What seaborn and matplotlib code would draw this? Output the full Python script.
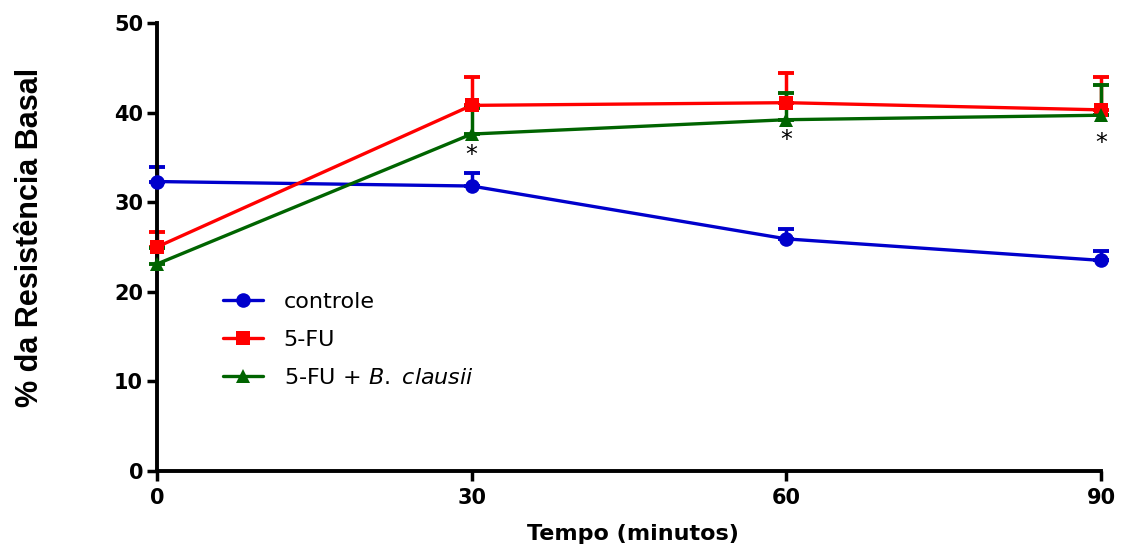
import numpy as np
import pandas as pd
import matplotlib
matplotlib.use("Agg")
import matplotlib.pyplot as plt
from matplotlib import font_manager
import seaborn as sns

# ---- data ----
tempo = [0, 30, 60, 90]
controle = [32.3, 31.8, 25.9, 23.5]
controle_sem = [1.6, 1.5, 1.1, 1.0]
fu = [25.0, 40.8, 41.1, 40.3]
fu_sem = [1.7, 3.2, 3.3, 3.7]
fu_bc = [23.1, 37.6, 39.2, 39.7]
fu_bc_sem = [1.8, 2.9, 3.0, 3.4]
series_names = ["controle", "5-FU", r"$\mathit{5}$-FU + $\mathit{B.}$ $\mathit{clausii}$"]
star_x = [30, 60, 90]
star_y = [35.3, 36.9, 36.6]
yticks = [0, 10, 20, 30, 40, 50]
xticks = [0, 30, 60, 90]

sns.set_style("ticks")
plt.rcParams["font.family"] = ["DejaVu Sans"]
plt.rcParams["text.color"] = "black"
plt.rcParams["axes.labelcolor"] = "black"
plt.rcParams["xtick.color"] = "black"
plt.rcParams["ytick.color"] = "black"
plt.rcParams["mathtext.fontset"] = "custom"
plt.rcParams["mathtext.rm"] = "DejaVu Sans"
plt.rcParams["mathtext.it"] = "DejaVu Sans:italic"

names = {f.name for f in font_manager.fontManager.ttflist}
if "Liberation Sans Narrow" in names:
    ylab_family, ylab_size = "Liberation Sans Narrow", 26
else:
    ylab_family, ylab_size = "Liberation Sans", 22

colors = ["#0000CC", "#FF0000", "#006400"]
markers = ["o", "s", "^"]

df = pd.DataFrame({
    "tempo": tempo * 3,
    "valor": controle + fu + fu_bc,
    "grupo": [series_names[0]] * 4 + [series_names[1]] * 4 + [series_names[2]] * 4,
})

fig = plt.figure(figsize=(11.23, 5.46), dpi=100)
ax = fig.add_axes([0.1398, 0.1374, 0.8406, 0.8206])

sems = [controle_sem, fu_sem, fu_bc_sem]
vals = [controle, fu, fu_bc]
for v, s, c in zip(vals, sems, colors):
    ax.errorbar(tempo, v, yerr=[np.zeros(len(s)), s], fmt="none", ecolor=c,
                elinewidth=2.5, capsize=6, capthick=2.8, clip_on=False, zorder=2)

sns.lineplot(data=df, x="tempo", y="valor", hue="grupo", style="grupo",
             palette=dict(zip(series_names, colors)),
             markers=dict(zip(series_names, markers)), dashes=False,
             linewidth=2.4, markersize=10.5, markeredgewidth=0, ax=ax,
             clip_on=False, zorder=3)

for x, y in zip(star_x, star_y):
    ax.text(x, y, "*", ha="center", va="center", fontsize=17,
            color="black")

ax.set_xlim(0, 90)
ax.set_ylim(0, 50)
ax.set_xticks(xticks)
ax.set_yticks(yticks)
for lab in ax.get_xticklabels() + ax.get_yticklabels():
    lab.set_fontweight("bold")
    lab.set_fontsize(15)
ax.tick_params(axis="both", width=2.5, length=7, direction="out", color="black")
ax.tick_params(axis="y", pad=3)
ax.tick_params(axis="x", pad=5)
for side in ["left", "bottom"]:
    ax.spines[side].set_linewidth(2.8)
    ax.spines[side].set_color("black")
sns.despine(ax=ax)

ax.set_ylabel("% da Resistência Basal", fontsize=ylab_size, fontweight="bold",
              family=ylab_family)
ax.yaxis.set_label_coords(-0.119, 0.522)
ax.set_xlabel("Tempo (minutos)", fontsize=16, fontweight="bold",
              family="DejaVu Sans")
ax.xaxis.set_label_coords(0.504, -0.118)

leg = ax.legend(loc="upper left", bbox_to_anchor=(0.06, 0.42), frameon=False,
                fontsize=16, handlelength=1.8, handletextpad=0.95,
                labelspacing=0.82, borderaxespad=0)
for h in leg.legend_handles:
    h.set_linewidth(2.4)

fig.savefig("out.png", dpi=100)
